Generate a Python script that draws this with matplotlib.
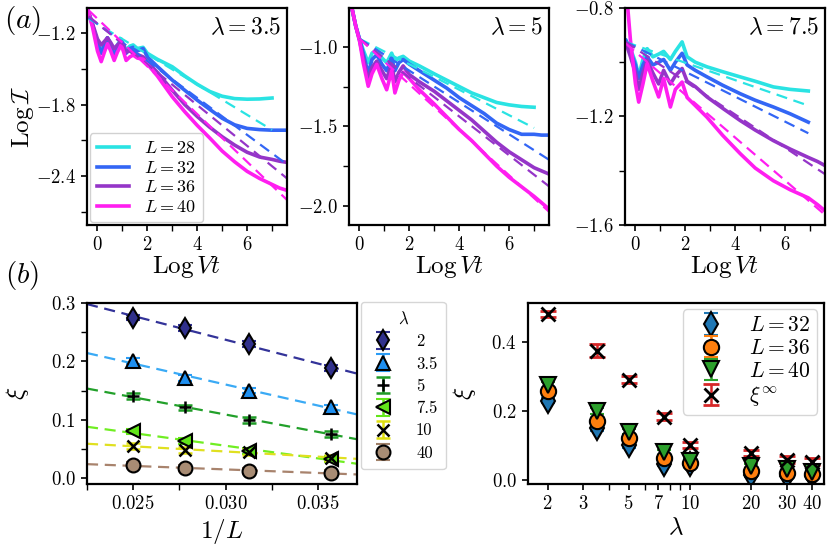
import numpy as np
import matplotlib
matplotlib.use("Agg")
import matplotlib.pyplot as plt
from matplotlib.ticker import MultipleLocator, FixedLocator, NullFormatter, FormatStrFormatter

plt.rcParams.update({
    "font.family": "serif",
    "font.serif": ["cmr10"],
    "mathtext.fontset": "cm",
    "axes.formatter.use_mathtext": True,
    "axes.linewidth": 1.6,
    "xtick.major.size": 4.5, "ytick.major.size": 4.5,
    "xtick.minor.size": 4.5, "ytick.minor.size": 4.5,
    "xtick.major.width": 1.2, "ytick.major.width": 1.2,
    "xtick.minor.width": 1.0, "ytick.minor.width": 1.0,
    "xtick.labelsize": 13.5, "ytick.labelsize": 13.5,
})

# ---- (a) top panels: Log I vs Log Vt ----
sizes = [28, 32, 36, 40]
curve_colors = ["#2ae3e3", "#3366f5", "#9535c8", "#ff1ef0"]

# lambda = 3.5
t_35 = [-0.4, -0.2, 0.0, 0.15, 0.28, 0.4, 0.53, 0.67, 0.8, 0.95, 1.05, 1.15, 1.3, 1.43,
        1.6, 1.83, 2.0, 2.4, 3.0, 3.5, 4.0, 4.5, 5.0, 5.5, 6.0, 6.5, 7.0, 7.3, 7.6]
I_35_L28 = [-1.0, -1.13, -1.27, -1.36, -1.29, -1.24, -1.29, -1.36, -1.30, -1.25, -1.30, -1.34, -1.31, -1.30,
            -1.33, -1.32, -1.37, -1.42, -1.483, -1.56, -1.63, -1.69, -1.73, -1.75, -1.755, -1.753, -1.745, np.nan, np.nan]
I_35_L32 = [-1.0, -1.13, -1.28, -1.37, -1.30, -1.24, -1.30, -1.40, -1.32, -1.26, -1.31, -1.37, -1.33, -1.32,
            -1.35, -1.33, -1.40, -1.48, -1.595, -1.68, -1.763, -1.84, -1.915, -1.97, -2.0, -2.01, -2.015, -2.015, -2.015]
I_35_L36 = [-1.0, -1.12, -1.25, -1.30, -1.27, -1.24, -1.28, -1.33, -1.30, -1.27, -1.31, -1.36, -1.35, -1.37,
            -1.38, -1.40, -1.44, -1.53, -1.68, -1.80, -1.90, -1.99, -2.07, -2.14, -2.20, -2.24, -2.26, -2.275, -2.285]
I_35_L40 = [-1.0, -1.15, -1.35, -1.44, -1.36, -1.29, -1.35, -1.43, -1.36, -1.30, -1.36, -1.43, -1.40, -1.385,
            -1.41, -1.42, -1.46, -1.56, -1.735, -1.86, -1.975, -2.08, -2.19, -2.28, -2.36, -2.42, -2.47, -2.50, -2.52]
fit_slope_35 = [-0.127, -0.155, -0.171, -0.200]
fit_icpt_35 = [-1.124, -1.124, -1.120, -1.080]

# lambda = 5
t_5 = [-0.3, -0.15, 0.0, 0.15, 0.35, 0.5, 0.69, 0.9, 1.09, 1.29, 1.42, 1.58, 1.75, 2.0,
       2.4, 3.0, 3.5, 4.0, 4.5, 5.0, 5.5, 6.0, 6.5, 7.0, 7.3, 7.6]
I_5_L28 = [-0.76, -0.87, -0.95, -1.02, -1.10, -1.04, -1.02, -1.07, -1.10, -1.04, -1.09, -1.07, -1.06, -1.09,
           -1.12, -1.17, -1.21, -1.25, -1.29, -1.32, -1.35, -1.365, -1.375, -1.38, np.nan, np.nan]
I_5_L32 = [-0.76, -0.87, -0.95, -1.04, -1.17, -1.08, -1.05, -1.11, -1.15, -1.07, -1.15, -1.10, -1.08, -1.11,
           -1.15, -1.21, -1.26, -1.32, -1.37, -1.42, -1.48, -1.52, -1.55, -1.55, -1.555, -1.555]
I_5_L36 = [-0.76, -0.87, -0.96, -1.07, -1.206, -1.13, -1.09, -1.15, -1.20, -1.11, -1.22, -1.16, -1.12, -1.175,
           -1.22, -1.28, -1.34, -1.40, -1.46, -1.53, -1.60, -1.66, -1.71, -1.76, -1.78, -1.80]
I_5_L40 = [-0.76, -0.87, -0.96, -1.10, -1.248, -1.17, -1.11, -1.20, -1.27, -1.15, -1.29, -1.21, -1.16, -1.20,
           -1.27, -1.36, -1.44, -1.52, -1.59, -1.67, -1.75, -1.82, -1.88, -1.94, -1.98, -2.02]
fit_slope_5 = [-0.080, -0.100, -0.122, -0.143]
fit_icpt_5 = [-0.95, -0.95, -0.95, -0.95]

# lambda = 7.5
t_75 = [-0.38, -0.2, 0.0, 0.13, 0.3, 0.47, 0.7, 0.93, 1.13, 1.4, 1.6, 1.87, 2.07, 2.4,
        2.87, 3.5, 4.2, 4.8, 5.53, 6.2, 6.93, 7.3, 7.6]
I_75_L28 = [-0.92, -0.95, -1.0, -1.05, -0.99, -0.95, -0.98, -0.97, -0.96, -0.99, -0.96, -0.925, -0.98, -1.0,
            -1.017, -1.035, -1.054, -1.07, -1.091, -1.10, -1.106, np.nan, np.nan]
I_75_L32 = [-0.92, -0.96, -1.01, -1.06, -1.01, -0.98, -1.01, -1.0, -0.99, -1.03, -1.0, -0.967, -1.01, -1.03,
            -1.054, -1.085, -1.116, -1.14, -1.165, -1.19, -1.221, np.nan, np.nan]
I_75_L36 = [-0.93, -0.98, -1.04, -1.10, -1.04, -0.993, -1.04, -1.08, -1.03, -1.08, -1.05, -1.023, -1.07, -1.09,
            -1.128, -1.17, -1.215, -1.25, -1.289, -1.32, -1.351, -1.366, -1.381]
I_75_L40 = [-0.72, -0.92, -1.08, -1.147, -1.08, -1.005, -1.07, -1.128, -1.06, -1.165, -1.10, -1.073, -1.13, -1.16,
            -1.203, -1.27, -1.337, -1.39, -1.437, -1.47, -1.50, -1.525, -1.548]
fit_slope_75 = [-0.032, -0.046, -0.061, -0.079]
fit_icpt_75 = [-0.938, -0.943, -0.949, -0.962]

# ---- (b) bottom left: xi vs 1/L ----
inv_L = [1 / 40, 1 / 36, 1 / 32, 1 / 28]
lam_labels = ["2", "3.5", "5", "7.5", "10", "40"]
xi_lam2 = [0.275, 0.257, 0.230, 0.188]
xi_lam35 = [0.200, 0.172, 0.150, 0.121]
xi_lam5 = [0.140, 0.121, 0.100, 0.076]
xi_lam75 = [0.080, 0.063, 0.047, 0.033]
xi_lam10 = [0.055, 0.048, 0.045, 0.035]
xi_lam40 = [0.022, 0.017, 0.012, 0.009]
xi_err = [0.005, 0.005, 0.005, 0.005]

# ---- (b) bottom right: xi vs lambda ----
lam = [2, 3.5, 5, 7.5, 10, 20, 30, 40]
xi_L32 = [0.230, 0.150, 0.100, 0.047, 0.045, 0.015, 0.012, 0.012]
xi_L36 = [0.257, 0.172, 0.121, 0.063, 0.048, 0.027, 0.021, 0.017]
xi_L40 = [0.275, 0.200, 0.140, 0.080, 0.055, 0.039, 0.032, 0.022]
xi_inf = [0.481, 0.375, 0.290, 0.183, 0.101, 0.078, 0.058, 0.053]
xi_inf_err = [0.010, 0.018, 0.010, 0.010, 0.010, 0.010, 0.010, 0.010]
xi_L_err = [0.008, 0.008, 0.008, 0.008, 0.008, 0.008, 0.008, 0.008]

fig = plt.figure(figsize=(8.3, 5.47), dpi=100)

top_axes = [fig.add_axes([0.1048, 0.5887, 0.241, 0.3967]),
            fig.add_axes([0.4205, 0.5887, 0.241, 0.3967]),
            fig.add_axes([0.753, 0.5887, 0.241, 0.3967])]

panels = [
    (t_35, [I_35_L28, I_35_L32, I_35_L36, I_35_L40], fit_slope_35, fit_icpt_35, -0.35,
     r"$\lambda=3.5$", (-2.81, -0.99), 0.6, 0.3),
    (t_5, [I_5_L28, I_5_L32, I_5_L36, I_5_L40], fit_slope_5, fit_icpt_5, 0.0,
     r"$\lambda=5$", (-2.12, -0.756), 0.5, 0.25),
    (t_75, [I_75_L28, I_75_L32, I_75_L36, I_75_L40], fit_slope_75, fit_icpt_75, -0.4,
     r"$\lambda=7.5$", (-1.6, -0.8), 0.4, 0.2),
]

for ax, (t, curves, slopes, icpts, x0, title, ylim, ymaj, ymin) in zip(top_axes, panels):
    t = np.array(t)
    for L, c, y in zip(sizes, curve_colors, curves):
        ax.plot(t, y, color=c, lw=2.6, label=r"$L=$" + str(L))
    for c, y, s, b in zip(curve_colors, curves, slopes, icpts):
        y = np.array(y)
        xe = t[~np.isnan(y)][-1]
        xs = np.array([x0, xe])
        ax.plot(xs, b + s * xs, color=c, lw=1.6, ls=(0, (5, 3)))
    ax.set_xlim(-0.42, 7.6)
    ax.set_ylim(*ylim)
    ax.xaxis.set_major_locator(MultipleLocator(2))
    ax.xaxis.set_minor_locator(MultipleLocator(1))
    ax.yaxis.set_major_locator(MultipleLocator(ymaj))
    ax.yaxis.set_minor_locator(MultipleLocator(ymin))
    ax.yaxis.set_major_formatter(FormatStrFormatter("$%.1f$"))
    ax.set_xlabel(r"$\mathrm{Log}\,Vt$", fontsize=18, labelpad=0)
    ax.text(0.97, 0.96, title, transform=ax.transAxes, ha="right", va="top", fontsize=17)

top_axes[0].set_ylabel(r"$\mathrm{Log}\,\mathcal{I}$", fontsize=18, labelpad=0)
top_axes[0].legend(loc="lower left", fontsize=13, handlelength=1.8, borderaxespad=0.15,
                   labelspacing=0.2, framealpha=0.9)

# bottom left
ax4 = fig.add_axes([0.1048, 0.1152, 0.3253, 0.3309])
lam_colors = ["#303090", "#2b9cf5", "#1f9a26", "#62e61a", "#dede10", "#a08068"]
line_colors = ["#333399", "#3aaaf5", "#22a02a", "#70ee22", "#e0e020", "#a8836d"]
face_colors = ["#30308c", "#1e8ff0", "k", "#62e61a", "k", "#a88c74"]
markers = ["d", "^", "+", "<", "x", "o"]
xi_sets = [xi_lam2, xi_lam35, xi_lam5, xi_lam75, xi_lam10, xi_lam40]
xfit = np.array([0.0225, 0.0371])
for lab, col, lc, fc, m, xi in zip(lam_labels, lam_colors, line_colors, face_colors, markers, xi_sets):
    p = np.polyfit(inv_L, xi, 1)
    ax4.plot(xfit, np.polyval(p, xfit), color=lc, lw=1.6, ls=(0, (5, 3)), zorder=1)
    if m in ("+", "x"):
        ax4.errorbar(inv_L, xi, yerr=xi_err, fmt=m, color="k", ecolor=col, elinewidth=1.8,
                     capsize=5, capthick=1.8, ms=9, mew=1.8, label=lab, zorder=3)
    else:
        ax4.errorbar(inv_L, xi, yerr=xi_err, fmt=m, mfc=fc, mec="k", ecolor=col, elinewidth=1.8,
                     capsize=5, capthick=1.8, ms=10, mew=1.5, label=lab, zorder=3)
ax4.set_xlim(0.0225, 0.0371)
ax4.set_ylim(-0.01, 0.3)
ax4.xaxis.set_major_locator(FixedLocator([0.025, 0.030, 0.035]))
ax4.xaxis.set_minor_locator(FixedLocator([0.0225, 0.0275, 0.0325]))
ax4.xaxis.set_major_formatter(FormatStrFormatter("$%.3f$"))
ax4.yaxis.set_major_locator(MultipleLocator(0.1))
ax4.yaxis.set_minor_locator(MultipleLocator(0.05))
ax4.yaxis.set_major_formatter(FormatStrFormatter("$%.1f$"))
ax4.set_xlabel(r"$1/L$", fontsize=18, labelpad=3)
ax4.set_ylabel(r"$\xi$", fontsize=18, labelpad=14)
ax4.legend(loc="upper left", bbox_to_anchor=(1.015, 1.005), title=r"$\lambda$", fontsize=12,
           title_fontsize=12, labelspacing=0.42, handlelength=1.6, handletextpad=1.2,
           borderaxespad=0.0, borderpad=0.5)

# bottom right
ax5 = fig.add_axes([0.6361, 0.1152, 0.3566, 0.3309])
ax5.set_xscale("log")
ax5.errorbar(lam, xi_L32, yerr=xi_L_err, fmt="d", color="tab:blue", mec="k", mew=1.5, ms=12,
             elinewidth=1.8, capsize=5, capthick=1.8, label=r"$L=$32")
ax5.errorbar(lam, xi_L36, yerr=xi_L_err, fmt="o", color="tab:orange", mec="k", mew=1.5, ms=11,
             elinewidth=1.8, capsize=5, capthick=1.8, label=r"$L=$36")
ax5.errorbar(lam, xi_L40, yerr=xi_L_err, fmt="v", color="tab:green", mec="k", mew=1.5, ms=11,
             elinewidth=1.8, capsize=5, capthick=1.8, label=r"$L=$40")
ax5.errorbar(lam, xi_inf, yerr=xi_inf_err, fmt="x", color="k", ecolor="tab:red", mew=2, ms=10,
             elinewidth=1.8, capsize=6, capthick=1.8, label=r"$\xi^{\infty}$")
ax5.set_xlim(1.6, 45.8)
ax5.set_ylim(-0.012, 0.513)
ax5.xaxis.set_major_locator(FixedLocator([2, 3, 5, 7, 10, 20, 30, 40]))
ax5.xaxis.set_major_formatter(FormatStrFormatter("$%d$"))
ax5.xaxis.set_minor_locator(FixedLocator([4, 6, 8, 9]))
ax5.xaxis.set_minor_formatter(NullFormatter())
ax5.yaxis.set_major_locator(MultipleLocator(0.2))
ax5.yaxis.set_major_formatter(FormatStrFormatter("$%.1f$"))
ax5.set_xlabel(r"$\lambda$", fontsize=18, labelpad=3)
ax5.set_ylabel(r"$\xi$", fontsize=18, labelpad=10)
ax5.legend(loc="upper right", fontsize=15.5, labelspacing=0.15, handlelength=2.0,
           borderaxespad=0.3, borderpad=0.3)

fig.text(0.027, 0.963, r"$(a)$", fontsize=21, ha="center", va="center")
fig.text(0.027, 0.497, r"$(b)$", fontsize=21, ha="center", va="center")

fig.savefig("out.png", dpi=100)
